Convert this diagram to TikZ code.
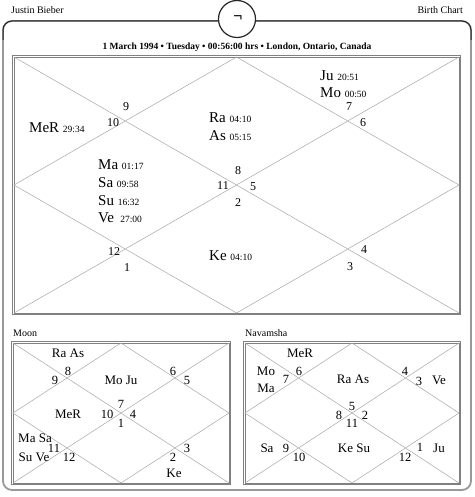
\documentclass[tikz,border=0pt]{standalone}
\usepackage{fontspec}
\setmainfont{Liberation Serif}
\usetikzlibrary{positioning}
\newcommand{\dgr}[1]{{\fontsize{9.5}{9.5}\selectfont #1}}
\newcommand{\chartgrid}[4]{%
  \draw[chartbox] ({#1-1.8},{#2-1.8}) rectangle ({#3+1.8},{#4+1.8});
  \draw[chartbox] (#1,#2) rectangle (#3,#4);
  \draw[chartline] (#1,#2) -- (#3,#4) (#3,#2) -- (#1,#4)
    ({(#1+#3)/2},#2) -- (#3,{(#2+#4)/2}) -- ({(#1+#3)/2},#4) -- (#1,{(#2+#4)/2}) -- cycle;}

\begin{document}
\begin{tikzpicture}[
  x=1pt, y=-1pt,
  frame/.style={draw=black!40, line width=1.8pt, rounded corners=9pt},
  chartline/.style={draw=black!35, line width=0.5pt},
  chartbox/.style={draw=black!50, line width=0.7pt},
  planet/.style={font=\fontsize{15}{15}\selectfont, inner sep=0pt, anchor=base west},
  house/.style={font=\fontsize{12}{12}\selectfont, inner sep=0pt},
  sign/.style={font=\fontsize{13}{13}\selectfont, inner sep=0pt},
  snum/.style={font=\fontsize{12.5}{12.5}\selectfont, inner sep=0pt},
  caption/.style={font=\fontsize{10}{10}\selectfont, inner sep=0pt}
]
  \useasboundingbox (0,0) rectangle (474,497);

  % outer frame and header
  \draw[frame] (3,21) rectangle (471,490);
  \draw[black!85, line width=1pt, rounded corners=9pt] (3,40) |- (471,21) -- (471,40);
  \node[caption, anchor=base west] (name) at (11,14) {Justin Bieber};
  \node[caption, anchor=base east] (kind) at (463,14) {Birth Chart};
  \node[circle, draw=black!85, fill=white, line width=1.2pt, minimum size=37pt, inner sep=0pt] (logo) at (237,19) {};
  \node[font=\fontsize{16}{16}\selectfont\bfseries, inner sep=0pt] (hook) at (238,19) {¬};
  \node[font=\fontsize{9.5}{9.5}\selectfont\bfseries, inner sep=0pt, anchor=base] (title) at (237,50)
    {1 March 1994 • Tuesday • 00:56:00 hrs • London, Ontario, Canada};

  % birth chart
  \chartgrid{14}{57}{459}{313}
  \node[planet] (mer) at (29,132) {MeR \dgr{29:34}};
  \node[planet] (ra) at (209,123) {Ra \dgr{04:10}};
  \node[planet] (as) at (209,141) {As \dgr{05:15}};
  \node[planet] (ju) at (320,81) {Ju \dgr{20:51}};
  \node[planet] (mo) at (320,98) {Mo \dgr{00:50}};
  \node[planet] (ma) at (98,169) {Ma \dgr{01:17}};
  \node[planet] (sa) at (98,187) {Sa \dgr{09:58}};
  \node[planet] (su) at (98,205) {Su \dgr{16:32}};
  \node[planet] (ve) at (98,222) {Ve \,\dgr{27:00}};
  \node[planet] (ke) at (209,260) {Ke \dgr{04:10}};
  \node[house] (h9) at (126,107) {9};
  \node[house] (h10) at (113,123) {10};
  \node[house] (h8) at (238,171) {8};
  \node[house] (h11) at (223,186) {11};
  \node[house] (h5) at (253,187) {5};
  \node[house] (h2) at (238,203) {2};
  \node[house] (h12) at (114,252) {12};
  \node[house] (h1) at (127,268) {1};
  \node[house] (h7) at (349,107) {7};
  \node[house] (h6) at (363,123) {6};
  \node[house] (h4) at (364,250) {4};
  \node[house] (h3) at (350,267) {3};

  % moon chart
  \node[caption, anchor=base west] (moonlbl) at (13,336) {Moon};
  \chartgrid{13}{343}{229}{483}
  \node[sign] (mraas) at (68,353) {Ra As};
  \node[snum] (m8) at (68,371) {8};
  \node[snum] (m9) at (55,380) {9};
  \node[sign] (mmoju) at (121,380) {Mo Ju};
  \node[snum] (m6) at (173,371) {6};
  \node[snum] (m5) at (187,380) {5};
  \node[sign] (mmer) at (68,414) {MeR};
  \node[snum] (m7) at (121,404) {7};
  \node[snum] (m10) at (107,414) {10};
  \node[snum] (m4) at (133,414) {4};
  \node[snum] (m1) at (121,423) {1};
  \node[sign] (mmasa) at (35,438) {Ma Sa};
  \node[sign] (msuve) at (34,457) {Su Ve};
  \node[snum] (m11) at (54,448) {11};
  \node[snum] (m12) at (69,457) {12};
  \node[snum] (m3) at (187,448) {3};
  \node[snum] (m2) at (173,457) {2};
  \node[sign] (mke) at (174,473) {Ke};

  % navamsha chart
  \node[caption, anchor=base west] (navlbl) at (245,336) {Navamsha};
  \chartgrid{245}{343}{459}{483}
  \node[sign] (nmer) at (300,353) {MeR};
  \node[sign] (nmo) at (266,371) {Mo};
  \node[sign] (nma) at (266,388) {Ma};
  \node[snum] (n7) at (286,379) {7};
  \node[snum] (n6) at (299,371) {6};
  \node[sign] (nraas) at (353,379) {Ra As};
  \node[snum] (n4) at (405,371) {4};
  \node[snum] (n3) at (419,381) {3};
  \node[sign] (nve) at (439,380) {Ve};
  \node[snum] (n5) at (352,406) {5};
  \node[snum] (n8) at (339,415) {8};
  \node[snum] (n2) at (365,415) {2};
  \node[snum] (n11) at (352,423) {11};
  \node[sign] (nsa) at (267,448) {Sa};
  \node[snum] (n9) at (286,448) {9};
  \node[snum] (n10) at (299,457) {10};
  \node[sign] (nkesu) at (354,448) {Ke Su};
  \node[snum] (n12) at (405,457) {12};
  \node[snum] (n1) at (420,447) {1};
  \node[sign] (nju) at (439,448) {Ju};
\end{tikzpicture}
\end{document}
